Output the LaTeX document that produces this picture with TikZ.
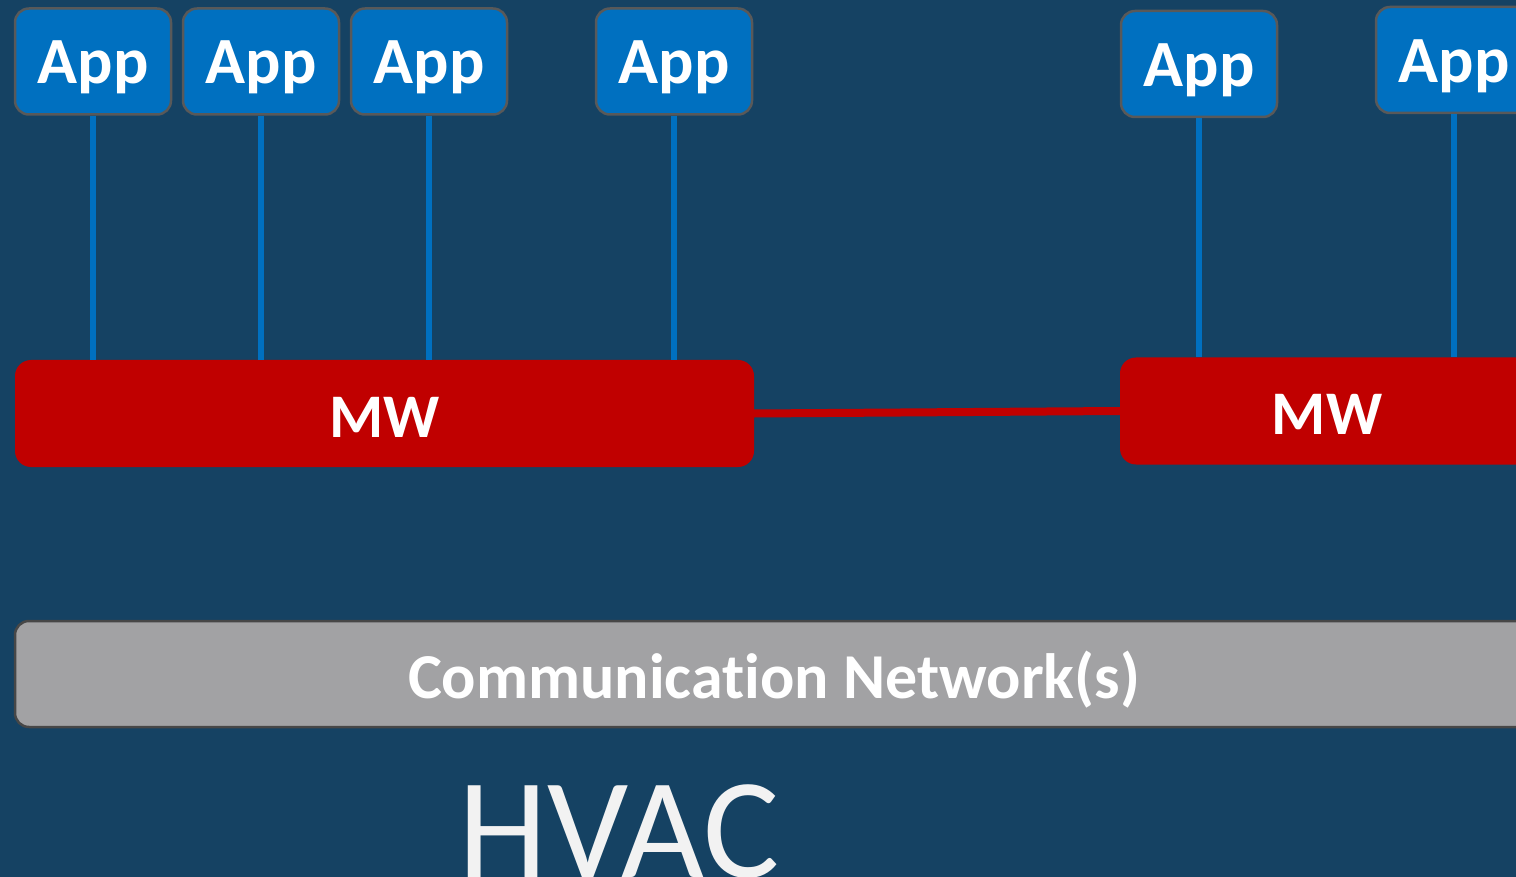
\documentclass[tikz,border=0pt]{standalone}
\usepackage{fontspec}
\setmainfont{Carlito}[Ligatures=NoCommon]
\usepackage{xcolor}
\usepackage{tikz}
\usetikzlibrary{positioning,calc}

\definecolor{bgblue}{HTML}{154263}
\definecolor{appblue}{HTML}{0070C0}
\definecolor{mwred}{HTML}{C00000}
\definecolor{netgray}{HTML}{A2A2A4}
\definecolor{edgegray}{HTML}{595959}
\definecolor{hvacwhite}{HTML}{F2F2F2}

\tikzset{
    appbox/.style={draw=edgegray, line width=2.5pt, fill=appblue, rounded corners=14pt, minimum width=156pt, minimum height=106pt, inner sep=0pt, text height=55pt, text depth=10pt, text=white, font=\fontsize{66}{70}\selectfont\bfseries},
    mwbox/.style={fill=mwred, rounded corners=16pt, minimum height=107pt, inner sep=0pt, text height=57pt, text depth=10pt, text=white, font=\fontsize{62}{66}\selectfont\bfseries},
    netbox/.style={draw=edgegray!80!black, line width=2.5pt, fill=netgray, rounded corners=14pt, minimum width=1518pt, minimum height=106pt, inner sep=0pt, text height=58pt, text depth=10pt, text=white, font=\fontsize{64}{68}\selectfont\bfseries},
    appline/.style={appblue, line width=6pt},
    mwline/.style={mwred, line width=8pt}
}

\begin{document}
\begin{tikzpicture}[x=1pt, y=-1pt]
    \useasboundingbox (0,0) rectangle (1516,877);
    \clip (0,0) rectangle (1516,877);
    \fill [bgblue] (0,0) rectangle (1516,877);

    % apps on the left node
    \node [appbox] (app1) at (93,61.5) {App};
    \node [appbox] (app2) at (261,61.5) {App};
    \node [appbox] (app3) at (429,61.5) {App};
    \node [appbox] (app4) at (674,61.5) {App};
    % apps on the right node
    \node [appbox] (app5) at (1199,64) {App};
    \node [appbox] (app6) at (1454,60) {App};

    \node [mwbox, minimum width=739pt] (mw1) at (384.5,413.5) {MW};
    \node [mwbox, minimum width=414pt] (mw2) at (1327,411) {MW};

    \node [netbox] (net) at (774,674) {Communication Network(s)};

    \node [anchor=base, inner sep=0pt, text=hvacwhite, font=\fontsize{143}{150}\selectfont] (hvac) at (619,877) {HVAC};

    \foreach \a/\m in {app1/mw1, app2/mw1, app3/mw1, app4/mw1, app5/mw2, app6/mw2}
        \draw [appline] (\a.south) -- (\a.south |- \m.north);

    \draw [mwline] (mw1.east) -- (mw2.west);
\end{tikzpicture}
\end{document}
